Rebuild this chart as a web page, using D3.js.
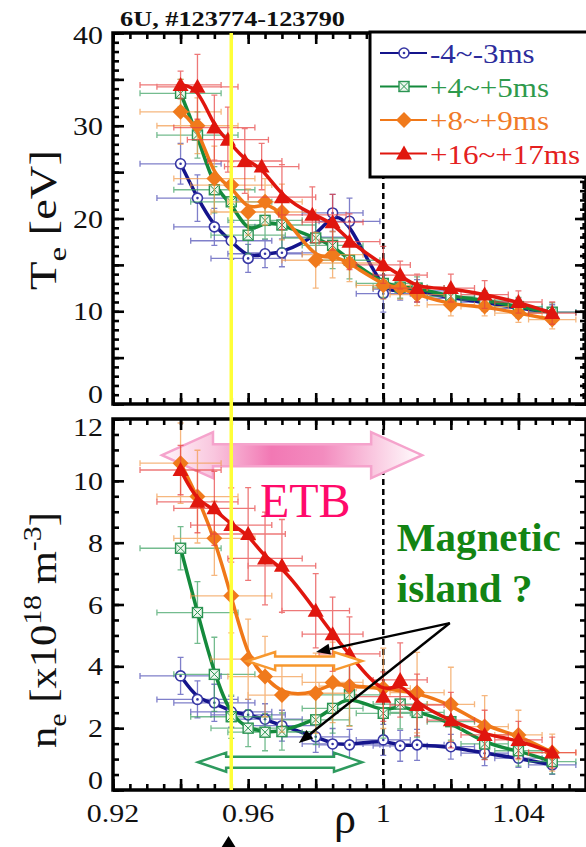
<!DOCTYPE html>
<html>
<head>
<meta charset="utf-8">
<script src="https://cdn.jsdelivr.net/npm/d3@7/dist/d3.min.js"></script>
<style>
  html, body { margin: 0; padding: 0; background: #fff; }
  svg { display: block; }
  text { font-family: "Liberation Serif", "Times New Roman", serif; }
</style>
</head>
<body>
<svg id="chart" width="586" height="847"></svg>
<script>
// ---------------- data ----------------
const seriesNames = ["-4~-3ms", "+4~+5ms", "+8~+9ms", "+16~+17ms"];

// normalized radius of the measurement channels
const rhoA = [0.94, 0.945, 0.95, 0.955, 0.96, 0.965, 0.97, 0.98, 0.985, 0.99, 1.0, 1.005, 1.01, 1.02, 1.03, 1.04, 1.05];
const rhoRedTe = [0.94, 0.945, 0.95, 0.954, 0.959, 0.964, 0.97, 0.979, 0.985, 0.99, 1.0, 1.005, 1.01, 1.02, 1.03, 1.04, 1.05];
const rhoOrangeNe = [0.94, 0.945, 0.95, 0.955, 0.96, 0.965, 0.97, 0.98, 0.985, 0.99, 1.0, 1.01, 1.02, 1.03, 1.04, 1.05];
const rhoErrA = [0.012, 0.012, 0.012, 0.012, 0.011, 0.011, 0.010, 0.010, 0.009, 0.009, 0.008, 0.008, 0.008, 0.007, 0.007, 0.007, 0.007];
const rhoErrO = [0.012, 0.012, 0.012, 0.012, 0.011, 0.011, 0.010, 0.010, 0.009, 0.009, 0.008, 0.008, 0.007, 0.007, 0.007, 0.007];

// electron temperature [eV]
const teBlue   = [25.9, 22.2, 19.1, 17.6, 15.7, 16.2, 16.3, 18.0, 20.6, 19.7, 11.9, 12.4, 12.2, 11.4, 11.0, 10.3, 9.9];
const teGreen  = [33.5, 29.0, 23.1, 21.8, 18.2, 19.8, 19.3, 17.9, 17.1, 15.5, 13.0, 12.6, 12.5, 11.6, 11.2, 10.5, 9.9];
const teOrange = [31.5, 30.0, 24.3, 23.6, 20.7, 21.8, 20.7, 15.5, 16.1, 15.2, 12.8, 12.5, 11.8, 10.7, 10.5, 9.8, 9.1];
const teRed    = [34.4, 34.2, 29.8, 28.5, 26.2, 25.6, 22.3, 20.4, 19.6, 17.5, 15.0, 13.9, 12.5, 12.5, 11.8, 11.0, 9.8];
const teBlueErr   = [2.2, 2.5, 2.0, 2.0, 1.5, 1.5, 1.5, 2.0, 2.0, 2.5, 2.0, 1.2, 1.2, 1.0, 1.0, 1.0, 0.8];
const teGreenErr  = [1.5, 2.5, 2.5, 2.0, 2.0, 2.0, 2.5, 2.0, 2.5, 2.0, 1.5, 1.2, 1.2, 1.0, 1.0, 1.0, 1.0];
const teOrangeErr = [3.5, 3.0, 3.5, 2.5, 2.5, 2.5, 3.0, 3.0, 2.5, 2.0, 1.5, 1.2, 1.2, 1.2, 1.0, 1.0, 1.0];
const teRedErr    = [1.5, 3.5, 3.5, 3.5, 3.5, 2.5, 3.5, 3.0, 3.0, 3.0, 2.0, 1.5, 1.5, 1.5, 1.5, 1.2, 1.2];

// electron density [1e18 m^-3]
const neBlue   = [3.69, 2.93, 2.82, 2.53, 2.43, 2.29, 2.08, 1.72, 1.49, 1.46, 1.62, 1.43, 1.46, 1.40, 1.19, 1.03, 0.81];
const neGreen  = [7.82, 5.74, 3.74, 2.37, 2.00, 1.87, 1.89, 2.27, 2.64, 3.08, 2.48, 2.78, 2.51, 2.21, 1.49, 1.27, 0.92];
const neOrange = [10.57, 9.49, 8.14, 6.28, 4.23, 3.67, 3.07, 3.13, 3.48, 3.36, 3.29, 3.15, 2.77, 2.05, 1.78, 1.21];
const neRed    = [10.35, 9.32, 9.11, 8.57, 8.28, 7.49, 7.25, 5.80, 5.04, 4.40, 3.02, 3.56, 2.75, 2.26, 1.78, 1.62, 1.21];
const neBlueErr   = [0.6, 0.6, 0.6, 0.5, 0.5, 0.5, 0.5, 0.5, 0.5, 0.5, 0.5, 0.5, 0.5, 0.4, 0.4, 0.3, 0.3];
const neGreenErr  = [0.7, 1.0, 1.2, 0.7, 0.6, 0.6, 0.6, 0.8, 0.8, 1.0, 0.8, 0.8, 0.8, 0.6, 0.5, 0.5, 0.4];
const neOrangeErr = [1.3, 1.5, 1.2, 1.2, 1.3, 1.3, 1.2, 1.3, 1.3, 1.3, 1.3, 1.3, 1.2, 1.0, 0.8, 0.6];
const neRedErr    = [0.8, 1.0, 1.2, 1.2, 1.5, 1.5, 1.5, 1.2, 1.2, 1.2, 0.8, 1.2, 1.0, 0.9, 0.8, 0.6, 0.5];

// axis ticks and labels
const xMajor = [0.92, 0.94, 0.96, 0.98, 1.0, 1.02, 1.04, 1.06];
const xMinor = d3.range(0, 29).map(i => 0.92 + i * 0.005);
const xLabelVals = [0.92, 0.96, 1.0, 1.04];
const xLabelText = ["0.92", "0.96", "1", "1.04"];
const teMajor = [0, 5, 10, 15, 20, 25, 30, 35, 40];
const teMinor = d3.range(0, 41);
const teLabels = [0, 10, 20, 30, 40];
const neMajor = [0, 2, 4, 6, 8, 10, 12];
const neMinor = d3.range(0, 25).map(i => i * 0.5);
const neLabels = [0, 2, 4, 6, 8, 10, 12];

// ---------------- styles ----------------
const styles = [
  {line: '#14148c', mark: '#3636a4', err: '#4a4ab4', text: '#2c2c9c'},
  {line: '#148a3c', mark: '#2a9452', err: '#3aa060', text: '#2e9a4c'},
  {line: '#f07818', mark: '#f07a1c', err: '#f39a4a', text: '#f07a28'},
  {line: '#e0160e', mark: '#e0160e', err: '#e84040', text: '#e42020'}
];
const STRETCH = 1.15;

// ---------------- scales ----------------
const svg = d3.select('#chart');
const x = d3.scaleLinear().domain([0.92, 1.06]).range([113, 586]);
const yTe = d3.scaleLinear().domain([0, 40]).range([404, 33]);
const yNe = d3.scaleLinear().domain([0, 12]).range([790, 419]);

const teSeries = [
  {rho: rhoA, val: teBlue, dr: rhoErrA, dv: teBlueErr},
  {rho: rhoA, val: teGreen, dr: rhoErrA, dv: teGreenErr},
  {rho: rhoA, val: teOrange, dr: rhoErrA, dv: teOrangeErr},
  {rho: rhoRedTe, val: teRed, dr: rhoErrA, dv: teRedErr}
];
const neSeries = [
  {rho: rhoA, val: neBlue, dr: rhoErrA, dv: neBlueErr},
  {rho: rhoA, val: neGreen, dr: rhoErrA, dv: neGreenErr},
  {rho: rhoOrangeNe, val: neOrange, dr: rhoErrO, dv: neOrangeErr},
  {rho: rhoA, val: neRed, dr: rhoErrA, dv: neRedErr}
];

// ---------------- helpers ----------------
function marker(sel, k, cx, cy) {
  const g = sel.append('g').attr('transform', `translate(${cx},${cy})`);
  const c = styles[k].mark;
  if (k === 0) {
    g.append('circle').attr('r', 5).attr('fill', '#fff').attr('stroke', c).attr('stroke-width', 1.6);
    g.append('circle').attr('r', 1.3).attr('fill', c);
  } else if (k === 1) {
    g.append('rect').attr('x', -5).attr('y', -5).attr('width', 10).attr('height', 10)
      .attr('fill', '#eef7ee').attr('stroke', c).attr('stroke-width', 1.4);
    g.append('path').attr('d', 'M-5,-5L5,5M5,-5L-5,5').attr('stroke', c).attr('stroke-width', 1);
  } else if (k === 2) {
    g.append('path').attr('d', 'M0,-8L8,0L0,8L-8,0Z').attr('fill', c);
  } else {
    g.append('path').attr('d', 'M0,-8L8,6L-8,6Z').attr('fill', c);
  }
}

function drawSeries(g, y, series) {
  const line = d3.line().x(d => x(d.r)).y(d => y(d.v)).curve(d3.curveBasis);
  series.forEach((s, k) => {
    const st = styles[k];
    const pts = s.rho.map((r, i) => ({r, v: s.val[i], dr: s.dr[i], dv: s.dv[i]}));
    const eb = g.append('g').attr('stroke', st.err).attr('stroke-width', 1.3).attr('opacity', 0.7);
    pts.forEach(p => {
      const cx = x(p.r), cy = y(p.v);
      const xl = x(p.r - p.dr), xr = x(p.r + p.dr);
      const yt = y(p.v + p.dv), yb = y(p.v - p.dv);
      eb.append('path').attr('fill', 'none').attr('d',
        `M${xl},${cy}H${xr}M${xl},${cy - 3}V${cy + 3}M${xr},${cy - 3}V${cy + 3}` +
        `M${cx},${yt}V${yb}M${cx - 3},${yt}H${cx + 3}M${cx - 3},${yb}H${cx + 3}`);
    });
    g.append('path').datum(pts).attr('d', line).attr('fill', 'none')
      .attr('stroke', st.line).attr('stroke-width', 3.5).attr('stroke-linejoin', 'round');
    const mg = g.append('g');
    pts.forEach(p => marker(mg, k, x(p.r), y(p.v)));
  });
}

function drawTicks(g, y, yMaj, yMin) {
  const [bottom, top] = y.range();
  const [x0, x1] = x.range();
  const mk = (axis, tf, vals, size) => {
    g.append('g').attr('transform', tf)
      .call(axis.tickValues(vals).tickSize(size).tickSizeOuter(0).tickFormat(''))
      .call(a => a.select('.domain').remove())
      .selectAll('line').attr('stroke', '#000').attr('stroke-width', 2.6);
  };
  mk(d3.axisBottom(x), `translate(0,${top})`, xMinor, 6);
  mk(d3.axisBottom(x), `translate(0,${top})`, xMajor, 11);
  mk(d3.axisTop(x), `translate(0,${bottom})`, xMinor, 6);
  mk(d3.axisTop(x), `translate(0,${bottom})`, xMajor, 11);
  mk(d3.axisRight(y), `translate(${x0},0)`, yMin, 6);
  mk(d3.axisRight(y), `translate(${x0},0)`, yMaj, 11);
  mk(d3.axisLeft(y), `translate(${x1},0)`, yMin, 6);
  mk(d3.axisLeft(y), `translate(${x1},0)`, yMaj, 11);
  g.append('rect').attr('x', x0).attr('y', top).attr('width', x1 - x0).attr('height', bottom - top)
    .attr('fill', 'none').attr('stroke', '#000').attr('stroke-width', 3.5);
}

function yLabels(g, y, vals) {
  const [lo, hi] = y.domain();
  vals.forEach(v => {
    let cy = y(v);
    if (v === lo) cy -= 10;
    else if (v === hi) cy += (hi === 12 ? 8 : 2);
    g.append('g').attr('transform', `translate(103,${cy + 9}) scale(${STRETCH},1)`)
      .append('text').attr('text-anchor', 'end').attr('font-size', 26).attr('fill', '#111').text(v);
  });
}

function hollowDoubleArrow(g, xa, xb, yc, headLen, headHalf, shaftHalf) {
  const pts = [
    [xa, yc], [xa + headLen, yc - headHalf], [xa + headLen, yc - shaftHalf], [xb - headLen, yc - shaftHalf],
    [xb - headLen, yc - headHalf], [xb, yc], [xb - headLen, yc + headHalf], [xb - headLen, yc + shaftHalf],
    [xa + headLen, yc + shaftHalf], [xa + headLen, yc + headHalf]
  ];
  return g.append('path').attr('d', 'M' + pts.map(p => p.join(',')).join('L') + 'Z');
}

function blackArrow(g, x1, y1, x2, y2) {
  const a = Math.atan2(y2 - y1, x2 - x1);
  const L = 14, Wd = 5.5;
  const bx = x2 - L * Math.cos(a), by = y2 - L * Math.sin(a);
  g.append('line').attr('x1', x1).attr('y1', y1).attr('x2', bx).attr('y2', by)
    .attr('stroke', '#000').attr('stroke-width', 2.4);
  g.append('path').attr('fill', '#000').attr('d',
    `M${x2},${y2}L${bx + Wd * Math.sin(a)},${by - Wd * Math.cos(a)}L${bx - Wd * Math.sin(a)},${by + Wd * Math.cos(a)}Z`);
}

// ---------------- defs ----------------
const defs = svg.append('defs');
[['clipTe', yTe], ['clipNe', yNe]].forEach(([id, y]) => {
  defs.append('clipPath').attr('id', id).append('rect')
    .attr('x', x.range()[0]).attr('y', y.range()[1])
    .attr('width', x.range()[1] - x.range()[0]).attr('height', y.range()[0] - y.range()[1]);
});
const grad = defs.append('linearGradient').attr('id', 'etbGrad')
  .attr('gradientUnits', 'userSpaceOnUse').attr('x1', x(0.9345)).attr('x2', x(1.0115)).attr('y1', 0).attr('y2', 0);
[[0, '#fff6fa'], [0.2, '#f9c6de'], [0.42, '#f278b4'], [0.62, '#f38cbf'], [0.85, '#fbd3e6'], [1, '#ffffff']]
  .forEach(([o, c]) => grad.append('stop').attr('offset', o).attr('stop-color', c));

// ---------------- title ----------------
const title = svg.append('g');
const titleText = title.append('text').attr('font-size', 20).attr('font-weight', 'bold').attr('fill', '#111')
  .text('6U, #123774-123790');
{
  const w = titleText.node().getComputedTextLength();
  title.attr('transform', `translate(120,26) scale(${225 / w},1)`);
}

// ---------------- upper panel: Te ----------------
const gTe = svg.append('g');
// dashed reference lines
gTe.append('path').attr('d', `M${x(1.0)},${yTe(40)}V${yTe(0)}M${x(1.0593)},${yTe(40)}V${yTe(0)}`)
  .attr('stroke', '#000').attr('stroke-width', 2.5).attr('stroke-dasharray', '6,4');
drawSeries(gTe.append('g').attr('clip-path', 'url(#clipTe)'), yTe, teSeries);
drawTicks(gTe, yTe, teMajor, teMinor);
yLabels(gTe, yTe, teLabels);

// ---------------- lower panel: ne ----------------
const gNe = svg.append('g');
gNe.append('path').attr('d', `M${x(1.0)},${yNe(12)}V${yNe(0)}`)
  .attr('stroke', '#000').attr('stroke-width', 2.5).attr('stroke-dasharray', '6,4');

// ETB width arrow
hollowDoubleArrow(gNe, x(0.9345), x(1.0115), yNe(10.83), 51, 23, 11)
  .attr('fill', 'url(#etbGrad)').attr('stroke', '#f5a3cc').attr('stroke-width', 2.5);

drawSeries(gNe.append('g').attr('clip-path', 'url(#clipNe)'), yNe, neSeries);
drawTicks(gNe, yNe, neMajor, neMinor);
yLabels(gNe, yNe, neLabels);

// x tick labels
xLabelVals.forEach((v, i) => {
  svg.append('g').attr('transform', `translate(${x(v)},822) scale(${STRETCH},1)`)
    .append('text').attr('text-anchor', 'middle').attr('font-size', 26).attr('fill', '#111').text(xLabelText[i]);
});
svg.append('text').attr('x', 345).attr('y', 833).attr('text-anchor', 'middle')
  .attr('font-size', 44).attr('fill', '#111').text('ρ');

// annotations in the density panel
gNe.append('text').attr('x', x(0.9635)).attr('y', yNe(8.83)).attr('font-size', 48).attr('fill', '#ff0a6a').text('ETB');
const island = gNe.append('text').attr('font-size', 41).attr('font-weight', 'bold').attr('fill', '#138413');
island.append('tspan').attr('x', x(1.004)).attr('y', yNe(7.73)).text('Magnetic');
island.append('tspan').attr('x', x(1.004)).attr('y', yNe(6.08)).text('island ?');

hollowDoubleArrow(gNe, x(0.9597), x(0.9937), yNe(4.17), 28, 9, 4.5)
  .attr('fill', '#fff').attr('stroke', '#f7982e').attr('stroke-width', 2.5);
hollowDoubleArrow(gNe, x(0.9452), x(0.9937), yNe(0.9), 28, 9.5, 5.5)
  .attr('fill', '#fff').attr('stroke', '#2e9a5e').attr('stroke-width', 2.5);

blackArrow(gNe, x(1.0197), yNe(5.40), x(0.9801), yNe(4.46));
blackArrow(gNe, x(1.0197), yNe(5.40), x(0.9750), yNe(1.52));

// ---------------- axis titles ----------------
function rotatedLabel(build, xb, yStart, len) {
  const g = svg.append('g');
  const t = g.append('text').attr('font-size', 37).attr('fill', '#111');
  build(t);
  const w = t.node().getComputedTextLength();
  g.attr('transform', `translate(${xb},${yStart}) rotate(-90) scale(${len / w},1)`);
}
rotatedLabel(t => {
  t.append('tspan').text('T');
  t.append('tspan').attr('dy', 10).attr('font-size', 26).text('e');
  t.append('tspan').attr('dy', -10).text(' [eV]');
}, 56, 290, 140);
rotatedLabel(t => {
  t.append('tspan').text('n');
  t.append('tspan').attr('dy', 10).attr('font-size', 26).text('e');
  t.append('tspan').attr('dy', -10).text(' [x10');
  t.append('tspan').attr('dy', -15).attr('font-size', 26).text('18');
  t.append('tspan').attr('dy', 15).text(' m');
  t.append('tspan').attr('dy', -15).attr('font-size', 26).text('-3');
  t.append('tspan').attr('dy', 15).text(']');
}, 56, 748, 236);

// ---------------- legend ----------------
const lg = svg.append('g');
lg.append('rect').attr('x', 370).attr('y', 32).attr('width', 240).attr('height', 145)
  .attr('fill', '#fff').attr('stroke', '#000').attr('stroke-width', 3);
const rowBase = [63, 96.5, 130, 163.5];
seriesNames.forEach((name, k) => {
  const yb = rowBase[k];
  lg.append('line').attr('x1', 380).attr('x2', 427).attr('y1', yb - 10).attr('y2', yb - 10)
    .attr('stroke', styles[k].line).attr('stroke-width', 2.2);
  marker(lg, k, 404, yb - 10);
  lg.append('g').attr('transform', `translate(430,${yb}) scale(${STRETCH},1)`)
    .append('text').attr('font-size', 27).attr('fill', styles[k].text).text(name);
});

// ---------------- pedestal position marker ----------------
svg.append('line').attr('x1', x(0.955)).attr('x2', x(0.955)).attr('y1', yTe(40)).attr('y2', yNe(0))
  .attr('stroke', '#ffff38').attr('stroke-width', 3.5);
svg.append('path').attr('fill', '#000')
  .attr('d', `M${x(0.9542)},836L${x(0.9542) + 7.5},848L${x(0.9542) - 7.5},848Z`);
</script>
</body>
</html>
